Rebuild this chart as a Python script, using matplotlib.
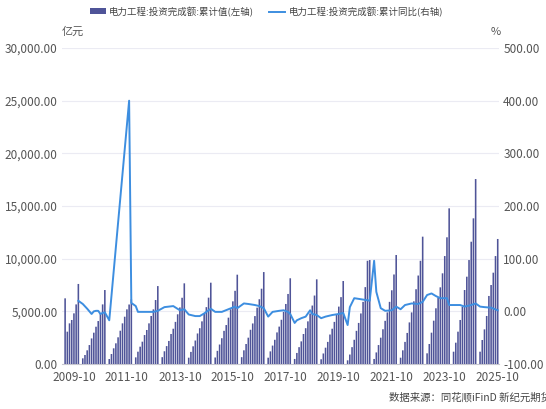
import matplotlib
matplotlib.use("Agg")
import matplotlib.pyplot as plt
from matplotlib.patches import Patch
from matplotlib.lines import Line2D
from matplotlib.ticker import FuncFormatter, MultipleLocator

plt.rcParams['font.family'] = ['Noto Sans CJK SC', 'DejaVu Sans']

# 累计值 (亿元), 每年 2 月起 (1-2 月合并), 2009 年只有下半年
bar_2009 = [6235, 3070, 3860, 4180, 4810, 5660, 7600]          # 2009-06 .. 2009-12
bar_years = list(range(2010, 2025))
bar_vals = {
    2010: [540, 855, 1300, 1800, 2430, 2975, 3540, 4080, 4810, 5660, 7025],
    2011: [475, 950, 1490, 1965, 2535, 3160, 3860, 4490, 5190, 5650, 6140],
    2012: [630, 1170, 1645, 2120, 2750, 3230, 3860, 4560, 5190, 6075, 7400],
    2013: [650, 1210, 1700, 2190, 2850, 3350, 4000, 4720, 5370, 6290, 7660],
    2014: [600, 1150, 1680, 2230, 2900, 3400, 4050, 4750, 5400, 6300, 7720],
    2015: [620, 1250, 1850, 2450, 3150, 3700, 4400, 5200, 5950, 6950, 8480],
    2016: [650, 1300, 1900, 2500, 3250, 3850, 4550, 5350, 6150, 7150, 8730],
    2017: [600, 1200, 1750, 2300, 3000, 3550, 4200, 4950, 5700, 6650, 8140],
    2018: [480, 1050, 1600, 2150, 2850, 3400, 4050, 4800, 5550, 6500, 8040],
    2019: [450, 1000, 1550, 2100, 2800, 3350, 4000, 4750, 5450, 6350, 7880],
    2020: [350, 900, 1600, 2300, 3150, 3900, 4800, 5900, 7300, 9800, 9870],
    2021: [480, 1100, 1800, 2500, 3300, 4100, 4900, 5900, 7000, 8500, 10350],
    2022: [600, 1300, 2100, 2950, 3950, 4900, 5950, 7100, 8400, 9800, 12090],
    2023: [1015, 1900, 2975, 4115, 5290, 6300, 7280, 8610, 10250, 12030, 14780],
    2024: [1170, 2025, 3070, 4180, 5440, 7025, 8290, 9870, 11610, 13830, 17560],
}
bar_2025 = [1170, 2280, 3290, 4560, 6460, 7500, 8670, 10250, 11870]  # 2025-02 .. 2025-10

# 累计同比 (%)
line_dates = ['2009-12', '2010-02', '2010-04', '2010-06', '2010-07', '2010-08', '2010-09',
              '2010-10', '2010-11', '2010-12', '2011-02', '2011-11', '2011-12', '2012-02',
              '2012-03', '2012-06', '2012-10', '2012-12', '2013-03', '2013-07', '2013-10',
              '2013-12', '2014-02', '2014-05', '2014-07', '2014-09', '2014-12', '2015-02',
              '2015-05', '2015-08', '2015-11', '2015-12', '2016-03', '2016-05', '2016-08',
              '2016-10', '2016-12', '2017-02', '2017-04', '2017-07', '2017-09', '2017-11',
              '2017-12', '2018-02', '2018-03', '2018-05', '2018-07', '2018-09', '2018-10',
              '2018-12', '2019-02', '2019-04', '2019-07', '2019-10', '2019-12', '2020-02',
              '2020-03', '2020-05', '2020-08', '2020-11', '2020-12', '2021-02', '2021-03',
              '2021-05', '2021-07', '2021-10', '2021-12', '2022-02', '2022-04', '2022-07',
              '2022-10', '2022-12', '2023-02', '2023-04', '2023-06', '2023-08', '2023-11',
              '2023-12', '2024-02', '2024-05', '2024-07', '2024-10', '2024-12', '2025-02',
              '2025-04', '2025-07', '2025-10']
line_vals = [20, 14, 5, -5, 0, 1, 1,
             -5, -3, -2, -17, 400, 16, 10,
             -1, -1, -1, 1, 8, 10, 2,
             4, -6, -9, -9, -4, 5, -1,
             -1, 4, 9, 6, 15, 14, 12,
             10, 6, -10, -1, 1, 2, -1,
             -5, -22, -17, -13, -10, 2, -5,
             -7, -13, -10, -7, -5, -3, -26,
             8, 25, 23, 21, 20, 96, 37,
             6, 1, 2, 9, 4, 12, 15,
             14, 18, 31, 34, 29, 25, 25,
             12, 12, 12, 9, 12, 15, 9,
             8, 7, 2]

tick_labels = ['2009-10', '2011-10', '2013-10', '2015-10', '2017-10',
               '2019-10', '2021-10', '2023-10', '2025-10']


def mi(s):
    # month index, 0 = 2009-10
    y, m = s.split('-')
    return (int(y) - 2009) * 12 + int(m) - 10


bx, bh = [], []
for i, v in enumerate(bar_2009):
    bx.append(mi('2009-%02d' % (6 + i)))
    bh.append(v)
for y in bar_years:
    for i, v in enumerate(bar_vals[y]):
        bx.append(mi('%d-%02d' % (y, 2 + i)))
        bh.append(v)
for i, v in enumerate(bar_2025):
    bx.append(mi('2025-%02d' % (2 + i)))
    bh.append(v)

bar_color = '#4f5498'
line_color = '#3d8ee0'
grey = '#555555'

fig = plt.figure(figsize=(5.46, 4.09), dpi=100)
ax = fig.add_axes([0.1136, 0.110, 0.8004, 0.7726])
ax2 = ax.twinx()
ax.set_zorder(1)
ax2.set_zorder(2)
ax.patch.set_visible(False)

ax.bar(bx, bh, width=0.72, color=bar_color, edgecolor='none', zorder=3, snap=False)
ax2.plot([mi(d) for d in line_dates], line_vals, color=line_color, lw=1.4, zorder=4)

ax.set_xlim(-5.4, 192.6)
ax.set_ylim(0, 30000)
ax2.set_ylim(-100, 500)
ax.yaxis.set_major_locator(MultipleLocator(5000))
ax2.yaxis.set_major_locator(MultipleLocator(100))
ax.yaxis.set_major_formatter(FuncFormatter(lambda v, p: '{:,.2f}'.format(v)))
ax2.yaxis.set_major_formatter(FuncFormatter(lambda v, p: '{:.2f}'.format(v)))
ax.set_xticks([mi(t) for t in tick_labels])
ax.set_xticklabels(tick_labels)

ax.grid(axis='y', color='#ebebf3', lw=0.8, zorder=0)
for a in (ax, ax2):
    for s in a.spines.values():
        s.set_visible(False)
    a.tick_params(length=0, labelsize=8.5, colors=grey, pad=3)
ax.spines['bottom'].set_visible(True)
ax.spines['bottom'].set_color('#c8c8d0')
ax.spines['bottom'].set_linewidth(0.8)
ax.tick_params(axis='x', pad=5)

fig.text(0.113, 0.922, '亿元', fontsize=8, color=grey, ha='left', va='center')
fig.text(0.917, 0.922, '%', fontsize=8, color=grey, ha='right', va='center')

handles = [Patch(facecolor=bar_color, edgecolor='none'),
           Line2D([0], [0], color=line_color, lw=1.4)]
labels = ['电力工程:投资完成额:累计值(左轴)', '电力工程:投资完成额:累计同比(右轴)']
fig.legend(handles, labels, loc='upper center', bbox_to_anchor=(0.488, 1.005), ncol=2,
           frameon=False, fontsize=6.8, handlelength=1.7, handleheight=0.6,
           columnspacing=1.6, handletextpad=0.35, labelcolor='#444444')

fig.text(0.712, 0.028, '数据来源：同花顺iFinD 新纪元期货', fontsize=7.5, color='#444444',
         ha='left', va='center')

fig.savefig('out.png', dpi=100)
